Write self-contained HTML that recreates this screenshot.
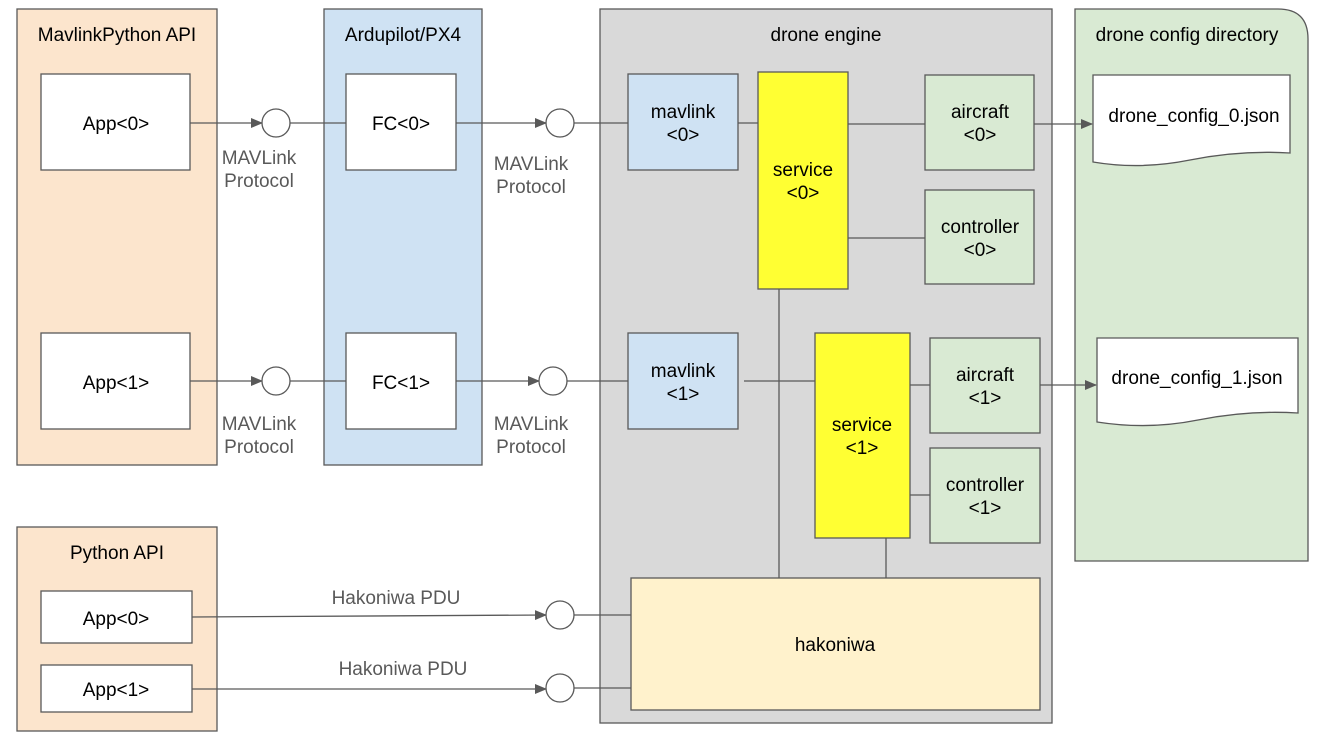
<!DOCTYPE html><html><head><style>body{margin:0;background:#fff}svg{display:block}text{font-family:"Liberation Sans",Arial,sans-serif;font-size:19px;text-anchor:middle;fill:#000}.g{fill:#595959}</style></head><body>
<svg width="1333" height="737" viewBox="0 0 1333 737">
<defs><marker id="a" markerWidth="12" markerHeight="10" refX="11" refY="5" orient="auto" markerUnits="userSpaceOnUse"><path d="M0,0L12,5L0,10z" fill="#595959"/></marker></defs>
<g stroke="#595959" stroke-width="1.3">
<rect x="17" y="9" width="200" height="456" fill="#fce5cd"/>
<rect x="324" y="9" width="158" height="456" fill="#cfe2f3"/>
<rect x="600" y="9" width="452" height="714" fill="#d9d9d9"/>
<path d="M1075,9H1278Q1308,9 1308,39V561H1075Z" fill="#d9ead3"/>
<rect x="17" y="527" width="200" height="204" fill="#fce5cd"/>
<rect x="41" y="74" width="149" height="96" fill="#fff"/>
<rect x="41" y="333" width="149" height="96" fill="#fff"/>
<rect x="346" y="74" width="110" height="96" fill="#fff"/>
<rect x="346" y="333" width="110" height="96" fill="#fff"/>
<rect x="628" y="74" width="110" height="96" fill="#cfe2f3"/>
<rect x="628" y="333" width="110" height="96" fill="#cfe2f3"/>
<rect x="758" y="72" width="90" height="217" fill="#ffff33"/>
<rect x="815" y="333" width="95" height="205" fill="#ffff33"/>
<rect x="925" y="75" width="109" height="95" fill="#d9ead3"/>
<rect x="925" y="190" width="109" height="94" fill="#d9ead3"/>
<rect x="930" y="338" width="110" height="95" fill="#d9ead3"/>
<rect x="930" y="448" width="110" height="95" fill="#d9ead3"/>
<rect x="631" y="578" width="409" height="132" fill="#fff2cc"/>
<rect x="41" y="591" width="151" height="52" fill="#fff"/>
<rect x="41" y="665" width="151" height="47" fill="#fff"/>
<path d="M1093,75H1290V153Q1240,150 1190,160Q1140,170 1093,162Z" fill="#fff"/>
<path d="M1097,338H1298V413Q1248,410 1198,420Q1148,430 1097,422Z" fill="#fff"/>
<g fill="none">
<path d="M190,123H262" marker-end="url(#a)"/><path d="M290,123H346"/>
<path d="M456,123H546" marker-end="url(#a)"/><path d="M574,123H628"/>
<path d="M738,123H758"/><path d="M848,124H925"/><path d="M848,238H925"/>
<path d="M1034,124H1092" marker-end="url(#a)"/>
<path d="M190,381H262" marker-end="url(#a)"/><path d="M290,381H346"/>
<path d="M456,381H539" marker-end="url(#a)"/><path d="M567,381H628"/>
<path d="M744,381H815"/><path d="M910,385H930"/><path d="M910,495H930"/>
<path d="M1040,385H1096" marker-end="url(#a)"/>
<path d="M779,289V578"/><path d="M886,538V578"/>
<path d="M192,617L546,615" marker-end="url(#a)"/><path d="M574,615H631"/>
<path d="M192,689H546" marker-end="url(#a)"/><path d="M574,688H631"/>
</g>
<g fill="#fff"><circle cx="276" cy="123" r="14"/><circle cx="560" cy="123" r="14"/><circle cx="276" cy="381" r="14"/><circle cx="553" cy="381" r="14"/><circle cx="560" cy="615" r="14"/><circle cx="560" cy="688" r="14"/></g>
</g>
<text x="117" y="41">MavlinkPython API</text>
<text x="403" y="41">Ardupilot/PX4</text>
<text x="826" y="41">drone engine</text>
<text x="1187" y="41">drone config directory</text>
<text x="117" y="559">Python API</text>
<text x="116" y="130">App&lt;0&gt;</text>
<text x="116" y="389">App&lt;1&gt;</text>
<text x="401" y="130">FC&lt;0&gt;</text>
<text x="401" y="389">FC&lt;1&gt;</text>
<text x="683" y="118">mavlink</text><text x="683" y="141">&lt;0&gt;</text>
<text x="683" y="377">mavlink</text><text x="683" y="400">&lt;1&gt;</text>
<text x="803" y="176">service</text><text x="803" y="199">&lt;0&gt;</text>
<text x="862" y="431">service</text><text x="862" y="454">&lt;1&gt;</text>
<text x="980" y="118">aircraft</text><text x="980" y="141">&lt;0&gt;</text>
<text x="980" y="233">controller</text><text x="980" y="256">&lt;0&gt;</text>
<text x="985" y="381">aircraft</text><text x="985" y="404">&lt;1&gt;</text>
<text x="985" y="491">controller</text><text x="985" y="514">&lt;1&gt;</text>
<text x="835" y="651">hakoniwa</text>
<text x="116" y="625">App&lt;0&gt;</text>
<text x="116" y="696">App&lt;1&gt;</text>
<text x="1194" y="122">drone_config_0.json</text>
<text x="1197" y="384">drone_config_1.json</text>
<text class="g" x="259" y="164">MAVLink</text><text class="g" x="259" y="187">Protocol</text>
<text class="g" x="531" y="170">MAVLink</text><text class="g" x="531" y="193">Protocol</text>
<text class="g" x="259" y="430">MAVLink</text><text class="g" x="259" y="453">Protocol</text>
<text class="g" x="531" y="430">MAVLink</text><text class="g" x="531" y="453">Protocol</text>
<text class="g" x="396" y="604">Hakoniwa PDU</text>
<text class="g" x="403" y="675">Hakoniwa PDU</text>
</svg></body></html>
